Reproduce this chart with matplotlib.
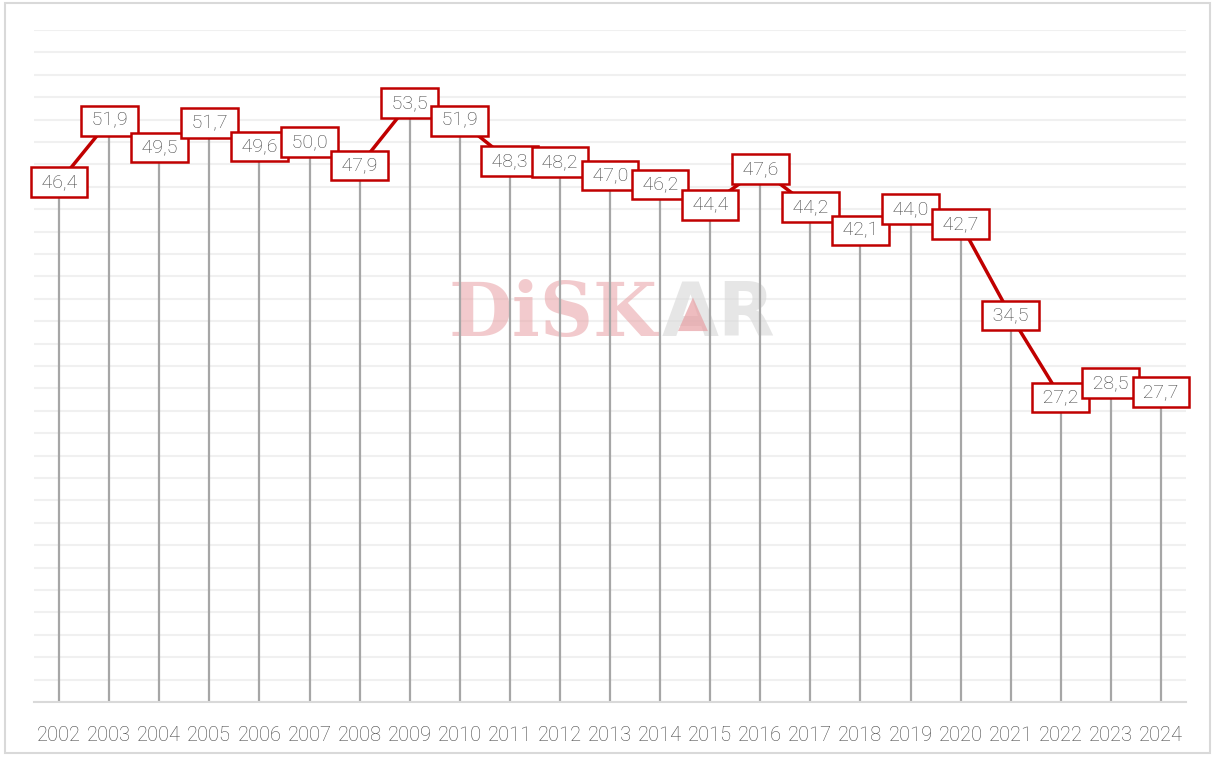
import numpy as np
import matplotlib
matplotlib.use("Agg")
import matplotlib.pyplot as plt
from matplotlib.patches import Rectangle, Polygon

plt.rcParams["font.family"] = ["Roboto", "DejaVu Sans"]
plt.rcParams["font.weight"] = "light"

years = [str(y) for y in range(2002, 2025)]
values = [46.4, 51.9, 49.5, 51.7, 49.6, 50.0, 47.9, 53.5, 51.9, 48.3, 48.2, 47.0,
          46.2, 44.4, 47.6, 44.2, 42.1, 44.0, 42.7, 34.5, 27.2, 28.5, 27.7]

red = "#c00000"

fig = plt.figure(figsize=(12.16, 7.58), dpi=100)
ax = fig.add_axes([0.028, 0.0739, 0.9473, 0.8865])

# outer frame around the whole figure
fig.patches.append(Rectangle((0.004, 0.006), 0.991, 0.99, transform=fig.transFigure,
                             fill=False, edgecolor="#d9d9d9", linewidth=1.5))

x = np.arange(len(years))

ax.set_xlim(-0.5, len(years) - 0.5)
ax.set_ylim(0, 60)
ax.set_yticks(np.arange(0, 61, 2))
ax.yaxis.grid(True, color="#f0f0f0", linewidth=1.5, zorder=0)
ax.set_axisbelow(True)
ax.tick_params(axis="y", left=False, labelleft=False)
ax.tick_params(axis="x", bottom=False, pad=14, labelsize=14.5, labelcolor="#444444")
ax.set_xticks(x)
ax.set_xticklabels(years)
for s in ["top", "right", "left"]:
    ax.spines[s].set_visible(False)
ax.spines["bottom"].set_color("#d9d9d9")
ax.spines["bottom"].set_linewidth(1.5)

# watermark
ax.text(0.541, 0.575, "DiSK", transform=ax.transAxes, ha="right", va="center",
        fontsize=53, fontweight="bold", family="DejaVu Serif", color="#e8a0a4",
        alpha=0.55, zorder=1)
ax.text(0.545, 0.575, "AR", transform=ax.transAxes, ha="left", va="center",
        fontsize=53, fontweight="bold", family="DejaVu Sans", color="#dcdcdc",
        alpha=0.7, zorder=1)
ax.add_patch(Polygon([[0.559, 0.552], [0.585, 0.552], [0.572, 0.602]], closed=True,
                     transform=ax.transAxes, color="#e8a0a4", alpha=0.7, zorder=1,
                     linewidth=0))

# drop lines and main line
ax.vlines(x, 0, values, color="#a6a6a6", linewidth=1.6, zorder=2)
ax.plot(x, values, color=red, linewidth=2.5, zorder=3)

for xi, v in zip(x, values):
    ax.text(xi, v, " " + f"{v:.1f}".replace(".", ",") + " ", ha="center", va="center",
            fontsize=14, color="#3f3f3f", zorder=4,
            bbox=dict(boxstyle="square,pad=0.3", facecolor="white",
                      edgecolor=red, linewidth=1.8))

fig.savefig("out.png", dpi=100)
